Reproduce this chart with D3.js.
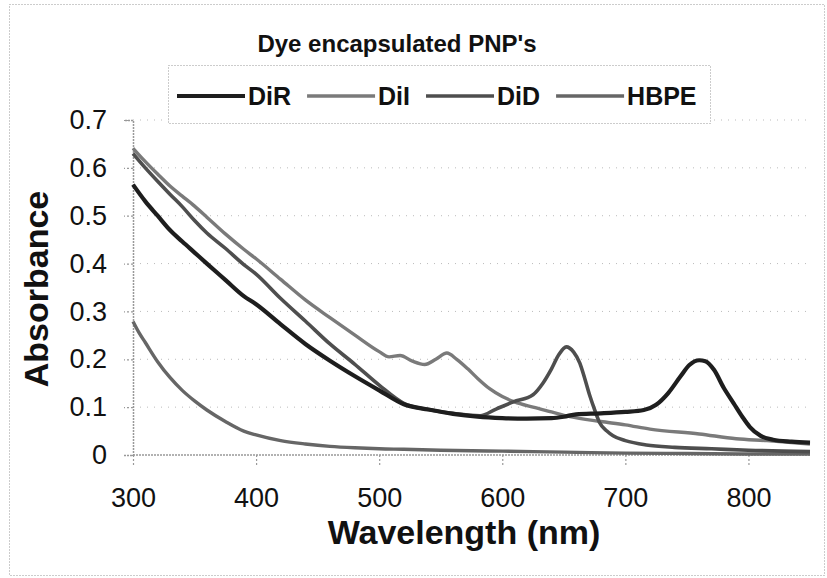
<!DOCTYPE html>
<head>
  <meta charset="utf-8">
  <script src="https://d3js.org/d3.v7.min.js"></script>
  <style>
    body { margin:0; background:#fff; }
    text { font-family: Arial, "Liberation Sans", sans-serif; fill:#111; }
  </style>
</head>
<body>
<script>
// absorbance spectra
var diRWl  = [300,310,320,330,340,350,360,375,390,400,420,440,460,480,500,520,540,560,580,600,620,640,650,660,680,700,715,725,735,745,752,760,765,772,780,788,795,801,810,820,835,850];
var diRAbs = [.565,.53,.5,.47,.446,.423,.4,.366,.332,.315,.273,.232,.197,.165,.135,.106,.095,.086,.08,.077,.076,.077,.08,.085,.087,.09,.094,.105,.13,.165,.188,.198,.196,.178,.14,.108,.08,.059,.04,.032,.028,.026];

var diIWl  = [300,310,320,330,340,350,360,375,390,400,420,440,460,480,500,508,517,527,537,546,555,563,572,580,590,600,610,625,640,655,680,700,720,760,790,815,850];
var diIAbs = [.641,.613,.587,.562,.541,.52,.497,.462,.43,.41,.367,.324,.287,.251,.216,.205,.208,.196,.189,.2,.213,.2,.18,.16,.138,.122,.111,.1,.09,.08,.07,.063,.054,.044,.034,.03,.023];

var diDWl  = [300,310,320,330,340,350,360,375,390,400,420,440,460,480,500,520,540,560,582,595,609,625,633,640,646,652,658,663,667,671,675,679,685,690,700,717,740,770,800,850];
var diDAbs = [.63,.6,.572,.545,.519,.49,.464,.432,.398,.378,.327,.28,.232,.19,.146,.108,.095,.087,.082,.096,.111,.126,.15,.18,.21,.226,.215,.192,.16,.125,.095,.068,.05,.04,.03,.021,.016,.013,.01,.007];

var hbpeWl  = [300,305,310,320,330,340,350,360,375,390,400,420,440,460,480,500,520,550,600,650,700,750,800,850];
var hbpeAbs = [.279,.255,.235,.195,.162,.135,.113,.094,.07,.05,.042,.03,.023,.018,.015,.013,.012,.01,.008,.006,.004,.003,.002,.002];

var seriesNames = ["DiR", "DiI", "DiD", "HBPE"];
var xTicks = [300, 400, 500, 600, 700, 800];
var yTicks = [0, 0.1, 0.2, 0.3, 0.4, 0.5, 0.6, 0.7];

var width = 827, height = 578;

var svg = d3.select("body").append("svg")
    .attr("width", width)
    .attr("height", height);

// outer chart border
svg.append("rect")
    .attr("x", 9.5).attr("y", 4.5)
    .attr("width", 815).attr("height", 571)
    .attr("fill", "none").attr("stroke", "#999")
    .attr("stroke-dasharray", "1,2");

var x = d3.scaleLinear().domain([300, 850]).range([133, 810]);
var y = d3.scaleLinear().domain([0, 0.7]).range([455, 120]);

// faint gridlines
svg.append("g").selectAll("line")
    .data(yTicks.slice(1))
    .enter().append("line")
    .attr("x1", x(300)).attr("x2", x(850))
    .attr("y1", function(d) { return y(d); })
    .attr("y2", function(d) { return y(d); })
    .attr("stroke", "#bbb")
    .attr("stroke-dasharray", "1,6");

var xAxis = svg.append("g")
    .attr("transform", "translate(0," + y(0) + ")")
    .call(d3.axisBottom(x).tickValues(xTicks).tickSize(11).tickPadding(22));

var yAxis = svg.append("g")
    .attr("transform", "translate(" + x(300) + ",0)")
    .call(d3.axisLeft(y).tickValues(yTicks).tickSize(9).tickPadding(17)
      .tickFormat(function(d) { return d === 0 ? "0" : d3.format(".1f")(d); }));

[xAxis, yAxis].forEach(function(a) {
  a.select(".domain").attr("stroke", "#999").attr("stroke-width", 1.5).attr("stroke-dasharray", "2,1");
  a.selectAll(".tick line").attr("stroke", "#999").attr("stroke-width", 1.2).attr("stroke-dasharray", "2,2");
  a.selectAll(".tick text").attr("font-size", 27).attr("fill", "#222")
    .style("font-family", "Arial, 'Liberation Sans', sans-serif");
});
xAxis.select(".domain").attr("d", "M" + x(300) + ",0H" + x(850));

var colors = {"DiR": "#1e1e1e", "DiI": "#7a7a7a", "DiD": "#4e4e4e", "HBPE": "#666"};
var widths = {"DiR": 4.2, "DiI": 3.4, "DiD": 3.6, "HBPE": 3.4};

var series = [
  {name: "HBPE", wl: hbpeWl, abs: hbpeAbs},
  {name: "DiI", wl: diIWl, abs: diIAbs},
  {name: "DiD", wl: diDWl, abs: diDAbs},
  {name: "DiR", wl: diRWl, abs: diRAbs}
];

var line = d3.line()
    .x(function(d) { return x(d[0]); })
    .y(function(d) { return y(d[1]); })
    .curve(d3.curveMonotoneX);

svg.append("g").selectAll("path")
    .data(series)
    .enter().append("path")
    .attr("d", function(s) { return line(d3.zip(s.wl, s.abs)); })
    .attr("fill", "none")
    .attr("stroke", function(s) { return colors[s.name]; })
    .attr("stroke-width", function(s) { return widths[s.name]; })
    .attr("stroke-linejoin", "round");

// title
svg.append("text")
    .attr("x", 397).attr("y", 52)
    .attr("text-anchor", "middle")
    .attr("font-size", 24).attr("font-weight", "bold")
    .text("Dye encapsulated PNP's");

// legend
svg.append("rect")
    .attr("x", 168.5).attr("y", 65.5)
    .attr("width", 542).attr("height", 58)
    .attr("fill", "#fff").attr("stroke", "#999")
    .attr("stroke-dasharray", "1,2");

var lx = 177;
seriesNames.forEach(function(n) {
  svg.append("line")
      .attr("x1", lx).attr("x2", lx + 68)
      .attr("y1", 96).attr("y2", 96)
      .attr("stroke", colors[n]).attr("stroke-width", widths[n]);
  var t = svg.append("text")
      .attr("x", lx + 71).attr("y", 105)
      .attr("font-size", 25).attr("font-weight", "bold")
      .text(n);
  lx += 71 + t.node().getComputedTextLength() + 16;
});

// axis titles
svg.append("text")
    .attr("x", 464).attr("y", 544)
    .attr("text-anchor", "middle")
    .attr("font-size", 34).attr("font-weight", "bold")
    .text("Wavelength (nm)");

svg.append("text")
    .attr("transform", "translate(48,289) rotate(-90)")
    .attr("text-anchor", "middle")
    .attr("font-size", 34).attr("font-weight", "bold")
    .text("Absorbance");
</script>
</body>
